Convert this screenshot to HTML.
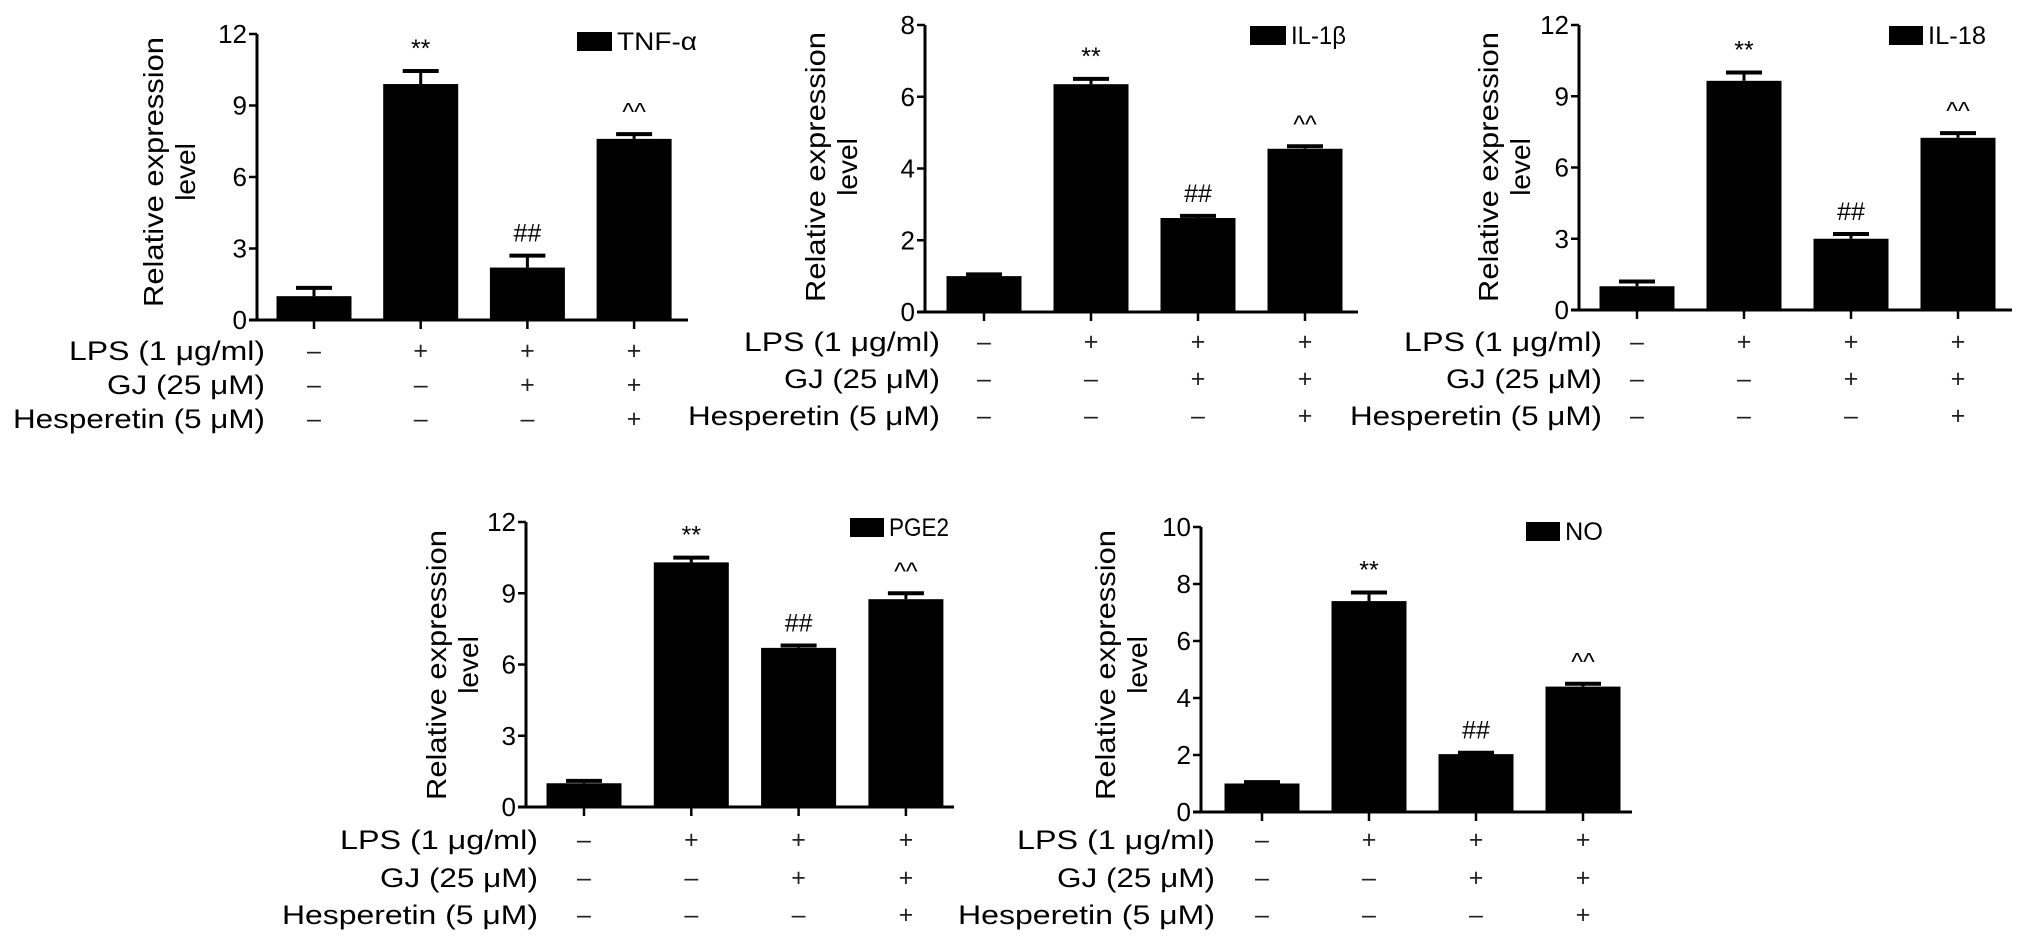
<!DOCTYPE html>
<html><head><meta charset="utf-8"><style>
html,body{margin:0;padding:0;background:#fff;}
svg{display:block;font-family:"Liberation Sans",Arial,sans-serif;}
</style></head><body>
<svg id="fig" width="2032" height="949" viewBox="0 0 2032 949" xmlns="http://www.w3.org/2000/svg"></svg>
<script>
// ---- data ----
const groups = ["control", "lps", "lps-gj", "lps-gj-hesperetin"];
const rowLabels = ["LPS (1 \u03bcg/ml)", "GJ (25 \u03bcM)", "Hesperetin (5 \u03bcM)"];
const rowSigns = [["\u2013","+","+","+"],["\u2013","\u2013","+","+"],["\u2013","\u2013","\u2013","+"]];
const annotations = ["", "**", "##", "^^"];

const tnfValues = [1.0, 9.9, 2.2, 7.6];
const tnfErrors = [0.35, 0.55, 0.5, 0.2];
const tnfTicks = [0, 3, 6, 9, 12];

const il1bValues = [1.0, 6.35, 2.62, 4.55];
const il1bErrors = [0.05, 0.15, 0.06, 0.07];
const il1bTicks = [0, 2, 4, 6, 8];

const il18Values = [1.0, 9.65, 3.0, 7.25];
const il18Errors = [0.2, 0.35, 0.2, 0.2];
const il18Ticks = [0, 3, 6, 9, 12];

const pge2Values = [1.0, 10.3, 6.7, 8.75];
const pge2Errors = [0.1, 0.2, 0.1, 0.25];
const pge2Ticks = [0, 3, 6, 9, 12];

const noValues = [1.0, 7.4, 2.03, 4.4];
const noErrors = [0.05, 0.3, 0.05, 0.1];
const noTicks = [0, 2, 4, 6, 8, 10];

const NS = "http://www.w3.org/2000/svg";
const svg = document.getElementById("fig");
function mk(tag, attrs, parent, text) {
  const e = document.createElementNS(NS, tag);
  for (const k in attrs) e.setAttribute(k, attrs[k]);
  if (text !== undefined) e.textContent = text;
  (parent || svg).appendChild(e);
  return e;
}

function panel(cfg) {
  const g = mk("g", {});
  
  
  const ymax = cfg.ticks[cfg.ticks.length - 1];
  const Y = v => cfg.y0 - (v / ymax) * (cfg.y0 - cfg.yTop);
  const X = i => cfg.c0 + i * cfg.step;
  const bw = 75;
  const ya = mk("line", {x1: cfg.ax, y1: cfg.yTop, x2: cfg.ax, y2: cfg.y0 + 1, stroke: "#000", "stroke-width": 3}, g);
  
  
  const xa = mk("line", {x1: cfg.ax - 8, y1: cfg.y0, x2: cfg.xEnd, y2: cfg.y0, stroke: "#000", "stroke-width": 3}, g);
  
  
  cfg.ticks.forEach(t => {
    mk("line", {x1: cfg.ax - 8, y1: Y(t), x2: cfg.ax, y2: Y(t), stroke: "#000", "stroke-width": 2.5}, g);
    const tl = mk("text", {x: cfg.ax - 10, y: Y(t) + 9, "text-anchor": "end", "font-size": 26}, g, String(t));
    
    
  });
  const tx = mk("text", {transform: `translate(${cfg.tx},${cfg.tyc}) rotate(-90)`, "text-anchor": "middle", "font-size": 28, textLength: 270, lengthAdjust: "spacingAndGlyphs"}, g, "Relative expression");
  
  
  const tl2 = mk("text", {transform: `translate(${cfg.tx + 32},${cfg.tyc}) rotate(-90)`, "text-anchor": "middle", "font-size": 28}, g, "level");
  
  
  cfg.values.forEach((v, i) => {
    const cx = X(i);
    const top = Y(v + cfg.errors[i]);
    mk("line", {x1: cx, y1: Y(v), x2: cx, y2: top, stroke: "#000", "stroke-width": 3}, g);
    mk("line", {x1: cx - 18, y1: top, x2: cx + 18, y2: top, stroke: "#000", "stroke-width": 4}, g);
    const b = mk("rect", {x: cx - bw / 2, y: Y(v), width: bw, height: cfg.y0 - Y(v), fill: "#000"}, g);
    
    
    mk("line", {x1: cx, y1: cfg.y0, x2: cx, y2: cfg.y0 + 9, stroke: "#000", "stroke-width": 2.5}, g);
    if (annotations[i]) {
      const a = mk("text", {x: cx, y: top - 14, "text-anchor": "middle", "font-size": 25}, g, annotations[i]);
      
      
    }
    rowSigns.forEach((row, r) => {
      const s = mk("text", {x: cx, y: cfg.rows[r] + 9, "text-anchor": "middle", "font-size": 25, fill: "#222"}, g, row[i]);
      
      
    });
  });
  rowLabels.forEach((lab, r) => {
    const t = mk("text", {x: cfg.labRight, y: cfg.rows[r] + 10, "text-anchor": "end", "font-size": 27, textLength: cfg.labW[r], lengthAdjust: "spacingAndGlyphs"}, g, lab);
    
    
  });
  const lg = mk("g", {}, g);
  
  
  mk("rect", {x: cfg.lx, y: cfg.ly, width: cfg.lw, height: 19, fill: "#000"}, lg);
  mk("text", {x: cfg.lx + cfg.lw + 5, y: cfg.ly + 18, "font-size": 25, textLength: cfg.ltw, lengthAdjust: "spacingAndGlyphs"}, lg, cfg.label);
}

panel({name: "tnf", label: "TNF-\u03b1", values: tnfValues, errors: tnfErrors, ticks: tnfTicks,
  ax: 257, y0: 320, yTop: 34, xEnd: 688, c0: 314, step: 106.7,
  tx: 163, tyc: 172, rows: [350, 384, 418], labRight: 265, labW: [196, 158, 252],
  lx: 577, ly: 32, lw: 35, ltw: 80});
panel({name: "il1b", label: "IL-1\u03b2", values: il1bValues, errors: il1bErrors, ticks: il1bTicks,
  ax: 925, y0: 312, yTop: 25, xEnd: 1358, c0: 984, step: 107,
  tx: 825, tyc: 167, rows: [341, 378, 415], labRight: 940, labW: [196, 156, 252],
  lx: 1250, ly: 26, lw: 36, ltw: 55});
panel({name: "il18", label: "IL-18", values: il18Values, errors: il18Errors, ticks: il18Ticks,
  ax: 1579, y0: 310, yTop: 25, xEnd: 2012, c0: 1637, step: 107,
  tx: 1498, tyc: 167, rows: [341, 378, 415], labRight: 1602, labW: [198, 156, 252],
  lx: 1889, ly: 26, lw: 34, ltw: 58});
panel({name: "pge2", label: "PGE2", values: pge2Values, errors: pge2Errors, ticks: pge2Ticks,
  ax: 526, y0: 807, yTop: 522, xEnd: 954, c0: 584, step: 107.3,
  tx: 446, tyc: 665, rows: [839, 877, 914], labRight: 538, labW: [198, 158, 256],
  lx: 850, ly: 518, lw: 34, ltw: 60});
panel({name: "no", label: "NO", values: noValues, errors: noErrors, ticks: noTicks,
  ax: 1201, y0: 812, yTop: 527, xEnd: 1632, c0: 1262, step: 107,
  tx: 1115, tyc: 665, rows: [839, 877, 914], labRight: 1215, labW: [198, 158, 257],
  lx: 1526, ly: 522, lw: 34, ltw: 38});
</script>
</body></html>
